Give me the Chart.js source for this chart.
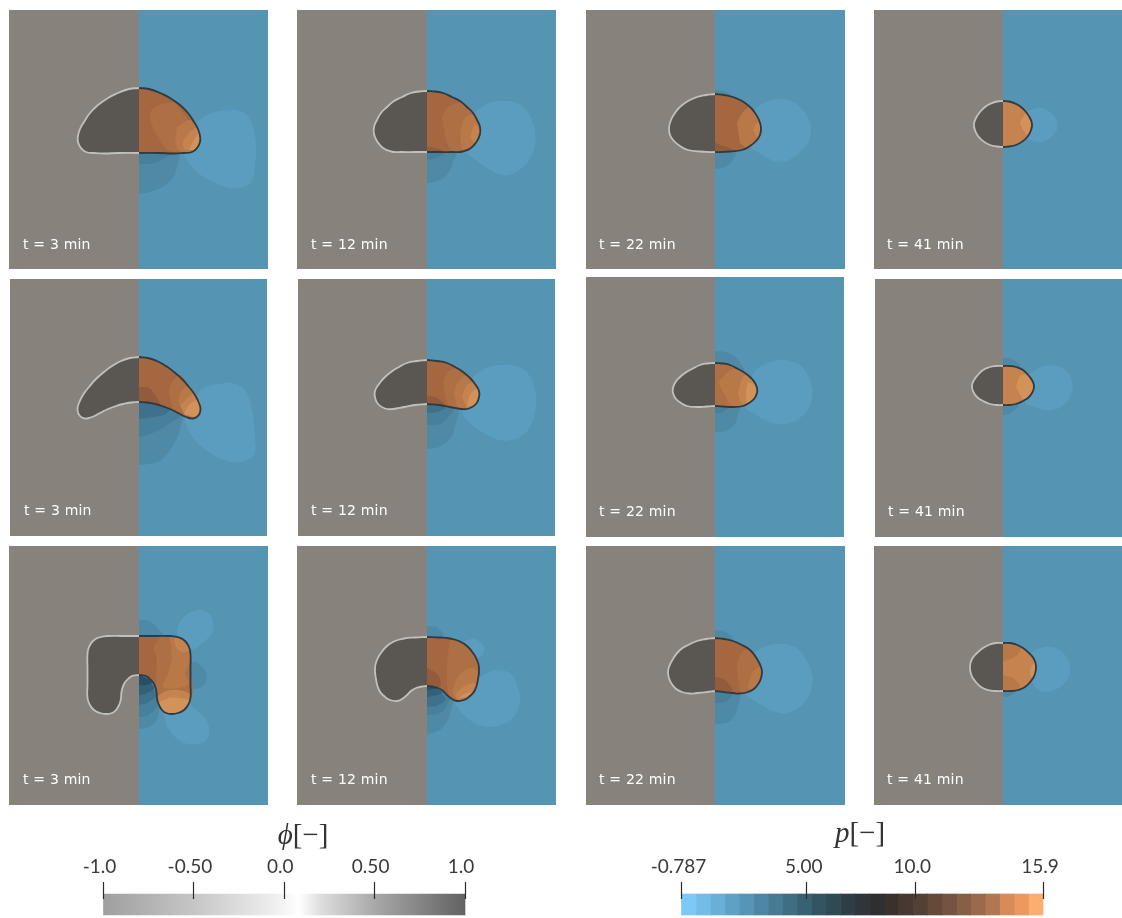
<!DOCTYPE html>
<html>
<head>
<meta charset="utf-8">
<title>phase field and pressure snapshots</title>
<script src="https://cdn.jsdelivr.net/npm/chart.js@4"></script>
<style>
  html, body { margin: 0; padding: 0; background: #fff; width: 1122px; height: 918px; overflow: hidden; }
  canvas { position: absolute; display: block; }
  .time { position: absolute; color: #fff; font: 14px "DejaVu Sans", sans-serif; letter-spacing: 0.2px; line-height: 16px; white-space: nowrap; }
  .unit { position: absolute; color: #333; font: 29px "Liberation Serif", "DejaVu Serif", serif; line-height: 34px; white-space: nowrap; transform: translateX(-50%); }
</style>
</head>
<body>
<script>
// panel frames, in picture pixels
const rowTimes = ['t = 3 min', 't = 12 min', 't = 22 min', 't = 41 min'];
const panelLeft = [[9, 297, 586, 874], [10, 298, 586, 875], [9, 297, 586, 874]];
const panelRight = [[268, 556, 845, 1122], [267, 555, 844, 1122], [268, 556, 845, 1122]];
const panelTop = [[10, 10, 10, 10], [279, 279, 277, 279], [546, 546, 546, 546]];
const panelBottom = [[269, 269, 269, 269], [536, 536, 537, 537], [805, 805, 805, 805]];
const panelAxis = [139, 427, 715, 1003];
const labelLeft = [[23, 311, 599, 887], [24, 311, 599, 888], [23, 311, 599, 887]];
const labelMiddle = [[244, 244, 244, 244], [510, 510, 511, 511], [779, 779, 779, 779]];

// colour bars
const phiTicks = [-1, -0.5, 0, 0.5, 1];
const phiTickLabels = ['-1.0', '-0.50', '0.0', '0.50', '1.0'];
const phiStops = [-1, -0.5, -0.05, 0.08, 0.2, 0.5, 1];
const phiStopColors = ['#9f9f9f', '#c6c6c6', '#efefef', '#ffffff', '#dedede', '#a8a8a8', '#626262'];
const pTicks = [-0.787, 5, 10, 15.9];
const pTickLabels = ['-0.787', '5.00', '10.0', '15.9'];
const pColors = ['#7ac9f7', '#72bde8', '#6aafd8', '#5fa1c6', '#5695b5', '#4e87a3', '#467a92', '#3f6d81', '#386171',
  '#335561', '#304a54', '#2f3f47', '#2f353a', '#302f2f', '#3a312d', '#473931', '#554035', '#654a3a', '#755340',
  '#875e46', '#9b6a4d', '#b17652', '#d68b58', '#ec985e', '#fdad6f'];

// droplet half outlines and pressure contours, [distance from symmetry axis, depth below panel top]
const r1c1Drop = [[0,78],[10,79],[21,83],[31,88],[41,95],[49,103],[55,112],[59,119],[61,126],[61,132],[58,138],[53,142],[45,143],[35,143.5],[20,143],[0,143]];
const r1c1Lobe = [[58,112],[66,106],[76,102],[88,100],[100,101],[108,105],[113,113],[116,125],[117,140],[116,155],[114,168],[109,175],[98,178],[86,177],[74,172],[63,166],[54,158],[48,150],[45,143],[50,125]];
const r1c1D1 = [[0,184],[11,182],[21,178],[29,173],[35,166],[38,157],[40,147],[40,140],[0,135]];
const r1c1D2 = [[0,154],[8,154],[15,153],[22,150],[28,147],[35,142],[0,135]];
const r1c1W1 = [[35,92],[18,96],[11,103],[13,115],[21,130],[30,141],[45,141],[53,140],[59,130],[56,118],[48,108],[40,98]];
const r1c1W2 = [[38,117],[50,110],[55,113],[60,125],[59,134],[54,141],[40,141],[36,132]];
const r1c1W3 = [[45,140],[44,132],[50,123],[59,117],[60,125],[59,134],[54,140]];
const r1c1W4 = [[50,140],[55,130],[60,123],[60,134],[55,140]];

const r1c2Drop = [[0,81],[8,81.5],[16,83],[25,87],[33,91],[40,97],[46,103],[50,110],[53,117],[53,124],[50,131],[44,138],[36,141.5],[25,142],[12,142],[0,142]];
const r1c2Lobe = [[48,102],[56,96],[66,92],[78,91],[90,93],[99,100],[105,110],[108,122],[108,135],[104,147],[96,157],[85,164],[75,165],[62,159],[50,151],[42,145],[38,141],[46,120]];
const r1c2D1 = [[0,173],[7,172],[13,170],[19,166],[23,160],[26,152],[28,142],[0,135]];
const r1c2D2 = [[0,150],[6,149],[11,147],[18,142],[0,135]];
const r1c2S1 = [[0,137],[8,138],[15,141],[0,142]];
const r1c2W1 = [[15,107],[20,98],[36,93],[48,105],[53,118],[51,128],[45,137],[36,140],[25,141],[18,127]];
const r1c2W2 = [[33,123],[38,108],[48,105],[53,117],[51,128],[45,137],[35,140]];
const r1c2W3 = [[43,127],[48,115],[53,120],[48,135]];

const r1c3Drop = [[0,84],[9,85],[18,87],[27,91],[35,97],[40,103],[44,110],[46,118],[45,125],[41,131],[35,136],[27,140],[15,141.5],[7,142],[0,142]];
const r1c3Lobe = [[40,99],[48,93],[58,90],[68,89],[78,92],[87,99],[93,108],[96,118],[94,130],[86,141],[76,149],[66,152],[54,149],[44,143],[35,135],[42,117]];
const r1c3D1 = [[0,159],[7,158],[13,155],[18,149],[20,142],[0,135]];
const r1c3D2 = [[0,80],[8,81],[15,86],[0,90]];
const r1c3S1 = [[0,133],[12,137],[18,140],[0,142]];
const r1c3W1 = [[22,113],[28,102],[35,97],[43,108],[46,118],[42,130],[33,138],[25,133]];
const r1c3W2 = [[38,120],[43,112],[46,120],[42,128]];

const r1c4Drop = [[0,91],[6,91.5],[12,93.5],[18,97],[23,102],[27,108],[29,114],[28,120],[25,126],[20,131],[13,135],[6,136.5],[0,137]];
const r1c4Lobe = [[23,102],[29,99.5],[35,98],[42,99],[48,103],[53,109],[54.5,116],[52,123],[47,128],[41,131.5],[34,132],[27,130],[22,127],[25,115]];
const r1c4W1 = [[17,113],[20,107],[25,103],[29,113],[25,125],[20,120]];

const r2c1Drop = [[0,78],[9,79],[18,82],[27,87],[35,93],[43,100],[50,108],[56,116],[60,124],[61.5,131],[59,137],[54,139.5],[47,138],[39,134],[31,130],[23,127],[16,125],[8,123.5],[0,123]];
const r2c1Lobe = [[60,112],[70,107],[80,105],[92,104],[102,108],[109,116],[113,130],[115,145],[116,160],[116,173],[110,180],[98,183],[85,181],[73,175],[62,167],[53,157],[48,148],[46,138],[55,125]];
const r2c1D1 = [[0,186],[9,185],[18,183],[25,178],[31,171],[36,163],[40,154],[42,145],[43,136],[31,125],[0,115]];
const r2c1D2 = [[0,158],[8,156],[16,153],[24,149],[31,144],[41,136],[31,125],[0,115]];
const r2c1D3 = [[0,140],[15,138],[28,134],[31,125],[0,115]];
const r2c1S1 = [[0,108],[10,109],[16,116],[21,125],[16,124],[0,122]];
const r2c1W1 = [[30,114],[33,103],[41,96],[50,108],[60,123],[61,133],[55,138],[45,136],[33,129]];
const r2c1W2 = [[39,122],[42,113],[50,107],[60,123],[61,133],[55,138],[45,136]];
const r2c1W3 = [[41,126],[50,118],[56,114],[60,124],[61,133],[55,138],[46,136]];
const r2c1W4 = [[45,135],[50,126],[60,121],[61,133],[55,138]];

const r2c2Drop = [[0,81],[10,82],[20,84],[28,88],[36,93],[43,99],[48,105],[52,112],[52,118],[49,125],[42,129.5],[34,130],[23,128],[12,126],[0,125]];
const r2c2Lobe = [[46,98],[54,92],[63,88],[73,86],[84,86],[94,89],[102,96],[107,107],[109,120],[108,133],[104,146],[96,156],[84,161],[72,161],[60,156],[50,150],[41,142],[36,133],[46,114]];
const r2c2D1 = [[0,170],[8,169],[16,166],[22,161],[26,154],[29,143],[30,131],[0,120]];
const r2c2D2 = [[0,146],[8,146],[15,144],[23,136],[26,129],[0,120]];
const r2c2D3 = [[0,134],[10,133],[18,128],[0,120]];
const r2c2S1 = [[0,117],[10,119],[18,127],[0,125]];
const r2c2W1 = [[16,103],[21,93],[31,89],[48,104],[52,114],[50,124],[40,130],[23,128],[18,118]];
const r2c2W2 = [[27,114],[31,103],[41,96],[48,104],[52,114],[50,124],[40,130],[30,128]];
const r2c2W3 = [[35,118],[40,106],[48,104],[52,114],[50,124],[40,129]];
const r2c2W4 = [[40,128],[43,116],[51,109],[52,116],[48,126]];

const r2c3Drop = [[0,86],[8,86.5],[15,88],[23,92],[30,96],[36,101],[40,106],[42,111],[42,116],[39,122],[34,126],[28,129],[18,130],[8,129.5],[0,129]];
const r2c3Lobe = [[37,98],[42,92],[50,87],[59,84],[68,83],[78,85],[87,90],[93,99],[97,110],[97,121],[93,132],[85,141],[75,146],[64,147],[52,144],[40,137],[30,129],[40,113]];
const r2c3D1 = [[0,155],[7,155],[13,153],[19,148],[22,141],[23,129],[0,125]];
const r2c3D2 = [[0,136],[8,135],[13,129],[0,125]];
const r2c3D3 = [[0,74],[7,74.5],[13,76],[19,79],[23,83],[28,95],[0,100]];
const r2c3W1 = [[3,105],[18,92],[30,96],[42,115],[38,123],[28,129],[17,129],[8,115]];
const r2c3W2 = [[23,115],[30,98],[40,106],[42,115],[38,123],[30,128],[25,125]];
const r2c3W3 = [[33,105],[40,108],[42,115],[38,123],[32,126],[31,115]];

const r2c4Drop = [[0,87],[7,87],[13,88],[20,91],[26,97],[30,103],[31,107],[30,112],[26,118],[20,122],[13,125],[6,126],[0,126]];
const r2c4Lobe = [[25,97],[31,92],[40,87.5],[49,86.5],[58,88.5],[65,94],[69,102],[69.5,110],[66,120],[59,127],[50,131],[41,131],[32,128],[22,123],[28,107]];
const r2c4D1 = [[0,79],[8,80],[17,88],[0,95]];
const r2c4D2 = [[0,136],[8,134],[15,125],[0,120]];
const r2c4W1 = [[13,108],[18,96],[25,97],[30,106],[27,117],[20,121]];

const r3c1Drop = [[0,90],[16,90],[32,90],[40,91.5],[46,95],[50,101],[51.5,108],[51.5,122],[51.5,138],[51.5,152],[49,159],[45,164],[39,167],[33,168],[27,167],[23,164],[19.5,158],[18,152],[17.5,146],[15,138],[10,132],[5,129.5],[0,129]];
const r3c1LobeA = [[38,88],[40,78],[47,69],[55,65],[63,64],[70,68],[74,76],[74,85],[69,92],[62,98],[54,103],[47,100]];
const r3c1LobeB = [[24,165],[27,177],[32,186],[40,194],[49,198],[58,198],[66,195],[70,187],[69,178],[64,170],[56,163],[48,157],[38,160]];
const r3c1D1 = [[50,117],[56,116],[62,120],[67,127],[67,135],[62,141],[52,142],[45,131]];
const r3c1D2 = [[0,74],[7,74.5],[13,77],[19,83],[23,91],[0,100]];
const r3c1D3 = [[0,183],[7,182],[13,179],[18,173],[20,166],[21,156],[20,147],[0,135]];
const r3c1D4 = [[0,171],[7,170],[12,167],[17,162],[18,157],[18,147],[0,135]];
const r3c1D5 = [[0,159],[10,156],[17,147],[0,135]];
const r3c1D6 = [[0,149],[8,147],[15,141],[0,130]];
const r3c1D7 = [[0,139],[7,139],[13,136],[0,128]];
const r3c1W1 = [[22,91],[15,101],[18,114],[17,126],[18,146],[18,152],[19.5,158],[51.5,152],[51.5,122],[51.5,108],[50,101],[46,95],[40,91.5],[32,90]];
const r3c1W2 = [[30,90.5],[33,109],[30,125],[24,141],[45,141],[50,136],[46,128],[50,118],[51,108],[50,101],[46,95],[40,91.5]];
const r3c1W3 = [[19,150],[27,145],[40,144],[51,148],[51.5,152],[49,159],[45,164],[39,167],[33,168],[27,167],[23,164],[19.5,158]];
const r3c1W4 = [[20,156],[30,152],[42,152],[51,155],[49,159],[45,164],[39,167],[33,168],[27,167],[23,164]];
const r3c1W5 = [[35,91],[37,101],[43,106],[50,104],[46,95]];

const r3c2Drop = [[0,91],[12,91.5],[23,92.5],[32,95],[40,100],[46,107],[50,114],[52,122],[51,133],[48,144],[43,150],[37,154],[30,155],[25,153],[20,149],[16,145],[11,142],[5,140.5],[0,140]];
const r3c2LobeA = [[36,96],[42,93.5],[48,93],[53,96],[57,101],[57,106],[54,110],[49,112],[45,105]];
const r3c2LobeB = [[51,132],[60,127],[70,124],[78,125],[85,129],[90,139],[93,151],[91,163],[86,172],[76,178],[66,181],[55,180],[46,176],[38,170],[32,163],[28,154],[46,144]];
const r3c2D1 = [[0,188],[8,186],[15,182],[20,175],[23,167],[24,152],[0,138]];
const r3c2D2 = [[0,169],[13,167],[21,157],[22,152],[0,138]];
const r3c2D3 = [[0,161],[11,159],[18,152],[0,138]];
const r3c2D4 = [[0,151],[10,149],[15,146],[0,138]];
const r3c2D5 = [[0,144],[6,143],[11,142],[0,138]];
const r3c2D6 = [[0,80],[6,80.5],[11,82],[16,91],[0,100]];
const r3c2S1 = [[0,122],[11,129],[13,141],[0,140]];
const r3c2W1 = [[23,92],[20,121],[22,150],[30,154],[40,151],[48,143],[51,131],[50,114],[40,100]];
const r3c2W2 = [[25,147],[30,132],[38,124],[46,122],[51,126],[50,141],[40,151],[30,154]];
const r3c2W3 = [[28,149],[36,141],[48,137],[49,144],[40,151],[31,154]];
const r3c2W4 = [[31,152],[40,147],[46,147],[40,151]];

const r3c3Drop = [[0,92],[9,93],[18,95],[27,99],[35,104],[42,113],[46,121],[47,127],[45,135],[40,142],[33,146],[25,147.5],[18,147],[8,146],[0,145]];
const r3c3Lobe = [[38,107],[45,103],[52,100],[60,98],[68,98],[77,100],[85,105],[92,115],[97,128],[97,140],[92,153],[83,162],[72,167],[61,166],[50,161],[40,155],[30,147],[42,129]];
const r3c3D1 = [[0,178],[7,177.5],[13,176],[19,171],[22,164],[23,147],[0,140]];
const r3c3D2 = [[0,157],[10,156],[17,147],[0,140]];
const r3c3D3 = [[0,84],[10,86],[18,94],[0,100]];
const r3c3S1 = [[0,131],[10,134],[17,145],[0,145]];
const r3c3W1 = [[23,134],[23,114],[33,102],[43,114],[47,126],[43,139],[33,147],[25,147]];
const r3c3W2 = [[33,141],[37,127],[45,121],[47,126],[43,139],[35,146]];

const r3c4Drop = [[0,97],[7,97],[13,98.5],[20,102],[26,107],[31,113],[33,120],[32,128],[28,135],[22,141],[15,144],[8,145],[0,145]];
const r3c4Lobe = [[27,108],[32,104],[38,102],[45,101],[53,102],[60,107],[65,114],[67,122],[66,130],[61,138],[54,143],[46,145.5],[38,145],[30,137],[32,124]];
const r3c4D1 = [[0,151],[7,150],[12,144],[0,140]];
const r3c4S1 = [[0,97],[13,98.5],[18,102],[13,110],[0,116]];
const r3c4S2 = [[0,129],[10,132],[17,141],[8,145],[0,145]];
const r3c4W1 = [[27,129],[28,121],[32,117],[33,124],[30,132]];

const phiBackground = '#87837c';
const pBackground = '#5594b2';
const dropLeft = '#5a5652';
const edgeLeft = '#c2c0ba';
const edgeRight = '#2e3b42';
const shades = {
  lobe: '#5b9dbf', d1: '#4e89a6', d2: '#47809b', d3: '#3e718b', d4: '#33607a', d5: '#294f66',
  s1: '#925b3b', w0: '#a5673f', w1: '#ae6f44', w2: '#b97848', w3: '#c58350', w4: '#d29259'
};

// what goes in each panel: contours outside the droplet, base colour, contours inside it
const panels = [
  [
    { drop: r1c1Drop, base: 'w0', out: [['lobe', r1c1Lobe], ['d1', r1c1D1], ['d2', r1c1D2]], inner: [['w1', r1c1W1], ['w2', r1c1W2], ['w3', r1c1W3], ['w4', r1c1W4]] },
    { drop: r1c2Drop, base: 'w0', out: [['lobe', r1c2Lobe], ['d1', r1c2D1], ['d2', r1c2D2]], inner: [['s1', r1c2S1], ['w1', r1c2W1], ['w2', r1c2W2], ['w3', r1c2W3]] },
    { drop: r1c3Drop, base: 'w0', out: [['lobe', r1c3Lobe], ['d1', r1c3D1], ['d1', r1c3D2]], inner: [['s1', r1c3S1], ['w2', r1c3W1], ['w3', r1c3W2]] },
    { drop: r1c4Drop, base: 'w3', out: [['lobe', r1c4Lobe]], inner: [['w4', r1c4W1]] }
  ],
  [
    { drop: r2c1Drop, base: 'w0', out: [['lobe', r2c1Lobe], ['d1', r2c1D1], ['d2', r2c1D2], ['d3', r2c1D3]], inner: [['s1', r2c1S1], ['w1', r2c1W1], ['w2', r2c1W2], ['w3', r2c1W3], ['w4', r2c1W4]] },
    { drop: r2c2Drop, base: 'w0', out: [['lobe', r2c2Lobe], ['d1', r2c2D1], ['d2', r2c2D2], ['d3', r2c2D3]], inner: [['s1', r2c2S1], ['w1', r2c2W1], ['w2', r2c2W2], ['w3', r2c2W3], ['w4', r2c2W4]] },
    { drop: r2c3Drop, base: 'w1', out: [['lobe', r2c3Lobe], ['d1', r2c3D1], ['d2', r2c3D2], ['d1', r2c3D3]], inner: [['w2', r2c3W1], ['w3', r2c3W2], ['w4', r2c3W3]] },
    { drop: r2c4Drop, base: 'w3', out: [['lobe', r2c4Lobe], ['d1', r2c4D1], ['d1', r2c4D2]], inner: [['w4', r2c4W1]] }
  ],
  [
    { drop: r3c1Drop, base: 'w0', out: [['lobe', r3c1LobeA], ['lobe', r3c1LobeB], ['d1', r3c1D1], ['d1', r3c1D2], ['d1', r3c1D3], ['d2', r3c1D4], ['d3', r3c1D5], ['d4', r3c1D6], ['d5', r3c1D7]], inner: [['w1', r3c1W1], ['w2', r3c1W2], ['w3', r3c1W3], ['w4', r3c1W4], ['w3', r3c1W5]] },
    { drop: r3c2Drop, base: 'w0', out: [['lobe', r3c2LobeA], ['lobe', r3c2LobeB], ['d1', r3c2D1], ['d2', r3c2D2], ['d3', r3c2D3], ['d4', r3c2D4], ['d5', r3c2D5], ['d1', r3c2D6]], inner: [['s1', r3c2S1], ['w1', r3c2W1], ['w2', r3c2W2], ['w3', r3c2W3], ['w4', r3c2W4]] },
    { drop: r3c3Drop, base: 'w0', out: [['lobe', r3c3Lobe], ['d1', r3c3D1], ['d2', r3c3D2], ['d1', r3c3D3]], inner: [['s1', r3c3S1], ['w1', r3c3W1], ['w2', r3c3W2]] },
    { drop: r3c4Drop, base: 'w3', out: [['lobe', r3c4Lobe], ['d1', r3c4D1]], inner: [['w2', r3c4S1], ['w2', r3c4S2], ['w4', r3c4W1]] }
  ]
];

function addCanvas(left, top, width, height) {
  const canvas = document.createElement('canvas');
  canvas.style.left = left + 'px';
  canvas.style.top = top + 'px';
  canvas.style.width = width + 'px';
  canvas.style.height = height + 'px';
  canvas.width = width;
  canvas.height = height;
  document.body.appendChild(canvas);
  return canvas;
}

function filled(points, color, flip, tension) {
  return {
    data: points.map(p => ({ x: flip ? -p[0] : p[0], y: p[1] })),
    showLine: true,
    fill: 'shape',
    backgroundColor: color,
    borderColor: 'transparent',
    borderWidth: 0,
    pointRadius: 0,
    tension: tension
  };
}

function stroked(points, color, flip) {
  return {
    data: points.map(p => ({ x: flip ? -p[0] : p[0], y: p[1] })),
    showLine: true,
    fill: false,
    borderColor: color,
    borderWidth: 1.8,
    pointRadius: 0,
    tension: 0.5
  };
}

function drawPanel(row, col) {
  const spec = panels[row][col];
  const left = panelLeft[row][col], right = panelRight[row][col];
  const top = panelTop[row][col], bottom = panelBottom[row][col];
  const xMin = left - panelAxis[col], xMax = right - panelAxis[col], yMax = bottom - top;

  const sets = [
    filled([[xMin, 0], [xMax, 0], [xMax, yMax], [xMin, yMax]], pBackground, false, 0),
    filled([[xMin, 0], [0, 0], [0, yMax], [xMin, yMax]], phiBackground, false, 0)
  ];
  spec.out.forEach(s => sets.push(filled(s[1], shades[s[0]], false, 0.5)));
  sets.push(filled(spec.drop, dropLeft, true, 0.5));
  sets.push(filled(spec.drop, shades[spec.base], false, 0.5));
  spec.inner.forEach(s => sets.push(filled(s[1], shades[s[0]], false, 0.35)));
  sets.push(stroked(spec.drop, edgeLeft, true));
  sets.push(stroked(spec.drop, edgeRight, false));
  sets.forEach((d, i) => { d.order = sets.length - i; });

  new Chart(addCanvas(left, top, right - left, yMax), {
    type: 'scatter',
    data: { datasets: sets },
    options: {
      responsive: false,
      animation: false,
      events: [],
      layout: { padding: 0 },
      plugins: { legend: { display: false }, tooltip: { enabled: false } },
      scales: {
        x: { type: 'linear', display: false, min: xMin, max: xMax },
        y: { type: 'linear', display: false, min: 0, max: yMax, reverse: true }
      }
    }
  });

  const label = document.createElement('div');
  label.className = 'time';
  label.textContent = rowTimes[col];
  label.style.left = labelLeft[row][col] + 'px';
  label.style.top = (labelMiddle[row][col] - 8) + 'px';
  document.body.appendChild(label);
}

for (let r = 0; r < panels.length; r++) {
  for (let c = 0; c < panels[r].length; c++) drawPanel(r, c);
}

// colour bar: ticks poke into the bar, so the bar is thicker than its plot area and not clipped
function colorBar(box, min, max, ticks, tickLabels, datasets, labelOffsets) {
  new Chart(addCanvas(box.left, 855, box.width, 63), {
    type: 'bar',
    data: { labels: ['bar'], datasets: datasets },
    options: {
      responsive: false,
      animation: false,
      events: [],
      indexAxis: 'y',
      layout: { padding: { left: box.padLeft, right: box.padRight, top: 0, bottom: 8 } },
      plugins: { legend: { display: false }, tooltip: { enabled: false } },
      datasets: { bar: { grouped: false, barThickness: 21, clip: false, borderWidth: 0 } },
      scales: {
        x: {
          type: 'linear',
          position: 'top',
          min: min,
          max: max,
          afterBuildTicks: scale => { scale.ticks = ticks.map(v => ({ value: v })); },
          afterFit: scale => { scale.height = 44; },
          border: { display: false },
          grid: { drawOnChartArea: false, tickLength: 17, tickColor: '#2a2a2a', tickWidth: 1.2, z: 1 },
          ticks: {
            autoSkip: false,
            maxRotation: 0,
            padding: 4,
            color: '#3a3a3a',
            font: { family: 'Lato', size: 19 },
            labelOffset: labelOffsets,
            callback: (v, i) => tickLabels[i]
          }
        },
        y: { display: false }
      }
    }
  });
}

function phiGradient(context) {
  const chart = context.chart;
  if (!chart.chartArea) return '#ccc';
  const g = chart.ctx.createLinearGradient(chart.chartArea.left, 0, chart.chartArea.right, 0);
  phiStops.forEach((v, i) => g.addColorStop((v + 1) / 2, phiStopColors[i]));
  return g;
}

colorBar({ left: 50, width: 470, padLeft: 53.5, padRight: 55 }, -1, 1, phiTicks, phiTickLabels,
  [{ data: [[-1, 1]], backgroundColor: phiGradient }], -4);

const pMin = pTicks[0], pMax = pTicks[pTicks.length - 1];
const pCell = (pMax - pMin) / pColors.length;
colorBar({ left: 620, width: 480, padLeft: 61.5, padRight: 57 }, pMin, pMax, pTicks, pTickLabels,
  pColors.map((c, i) => ({ data: [[pMin + i * pCell, pMin + (i + 1) * pCell]], backgroundColor: c })), -3);

function unitTitle(html, x, top) {
  const t = document.createElement('div');
  t.className = 'unit';
  t.innerHTML = html;
  t.style.left = x + 'px';
  t.style.top = top + 'px';
  document.body.appendChild(t);
}
unitTitle('<i>ϕ</i>[−]', 303, 817);
unitTitle('<i>p</i>[−]', 860, 815);
</script>
</body>
</html>
